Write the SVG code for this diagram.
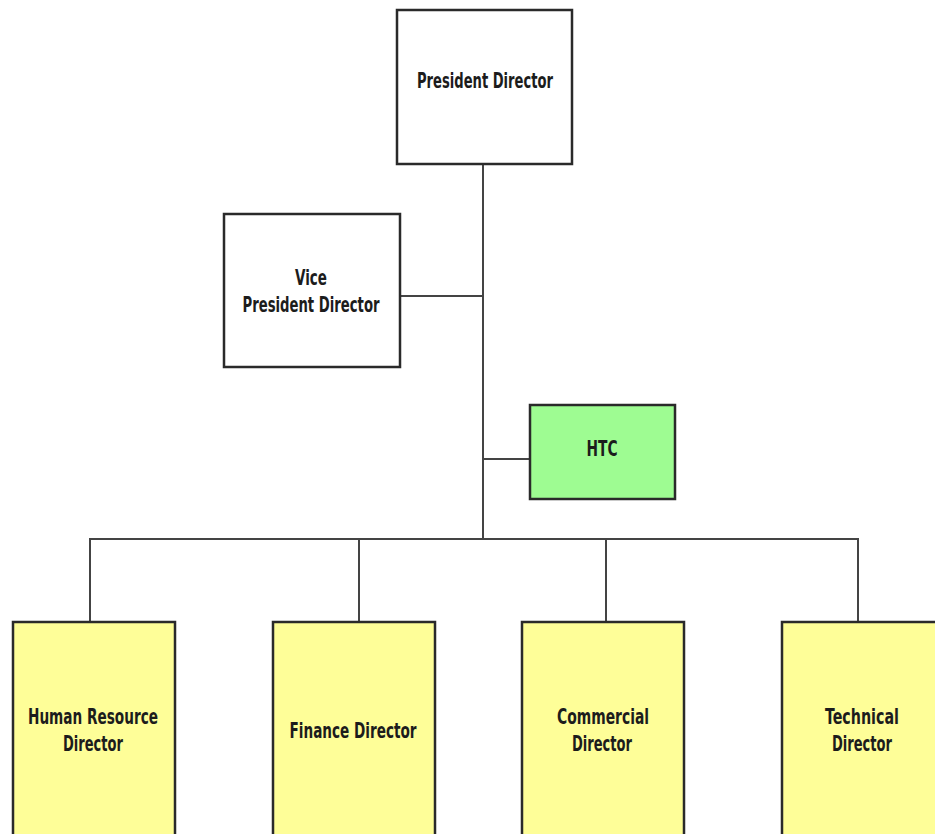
<svg xmlns="http://www.w3.org/2000/svg" width="935" height="834" viewBox="0 0 935 834">
<style>
.box{stroke:#2a2a2a;stroke-width:2.5}
.white{fill:#ffffff}
.green{fill:#9efc92}
.yellow{fill:#fefe98}
.lbl{font-family:"Liberation Sans Narrow","DejaVu Sans Condensed","Liberation Sans",sans-serif;font-weight:bold;font-size:21px;fill:#1c1c1c;text-anchor:middle}
.conn{stroke:#444444;stroke-width:2;fill:none}
</style>
<rect width="935" height="834" fill="#ffffff"/>
<g id="connectors">
<line class="conn" x1="483" y1="164" x2="483" y2="540"/>
<line class="conn" x1="400" y1="296" x2="483" y2="296"/>
<line class="conn" x1="483" y1="459" x2="530" y2="459"/>
<polyline class="conn" points="90,622 90,539 858,539 858,622"/>
<line class="conn" x1="359" y1="539" x2="359" y2="622"/>
<line class="conn" x1="606" y1="539" x2="606" y2="622"/>
</g>
<g id="president">
<rect class="box white" x="397" y="10" width="175" height="154"/>
<text class="lbl" x="485" y="88" textLength="136" lengthAdjust="spacingAndGlyphs">President Director</text>
</g>
<g id="vice">
<rect class="box white" x="224" y="214" width="176" height="153"/>
<text class="lbl" x="311" y="285" textLength="32" lengthAdjust="spacingAndGlyphs">Vice</text>
<text class="lbl" x="311" y="312" textLength="137" lengthAdjust="spacingAndGlyphs">President Director</text>
</g>
<g id="htc">
<rect class="box green" x="530" y="405" width="145" height="94"/>
<text class="lbl" x="602" y="456" textLength="31" lengthAdjust="spacingAndGlyphs">HTC</text>
</g>
<g id="hr">
<rect class="box yellow" x="13" y="622" width="162" height="220"/>
<text class="lbl" x="93" y="724" textLength="130" lengthAdjust="spacingAndGlyphs">Human Resource</text>
<text class="lbl" x="93" y="751" textLength="60" lengthAdjust="spacingAndGlyphs">Director</text>
</g>
<g id="finance">
<rect class="box yellow" x="273" y="622" width="162" height="220"/>
<text class="lbl" x="353" y="738" textLength="127" lengthAdjust="spacingAndGlyphs">Finance Director</text>
</g>
<g id="commercial">
<rect class="box yellow" x="522" y="622" width="162" height="220"/>
<text class="lbl" x="603" y="724" textLength="92" lengthAdjust="spacingAndGlyphs">Commercial</text>
<text class="lbl" x="602" y="751" textLength="60" lengthAdjust="spacingAndGlyphs">Director</text>
</g>
<g id="technical">
<rect class="box yellow" x="782" y="622" width="162" height="220"/>
<text class="lbl" x="862" y="724" textLength="74" lengthAdjust="spacingAndGlyphs">Technical</text>
<text class="lbl" x="862" y="751" textLength="60" lengthAdjust="spacingAndGlyphs">Director</text>
</g>
</svg>
